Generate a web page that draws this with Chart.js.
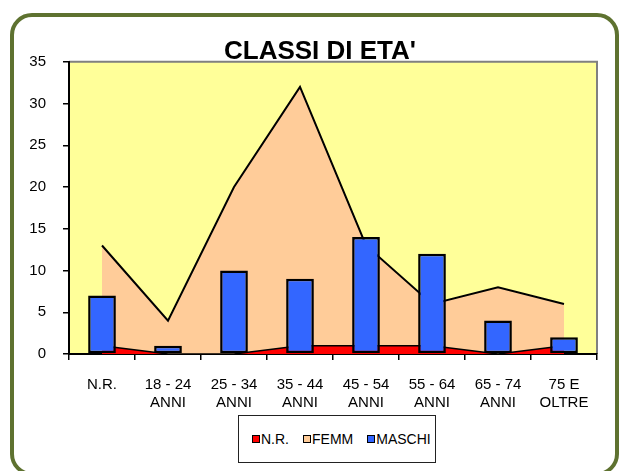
<!DOCTYPE html>
<html><head><meta charset="utf-8">
<script src="https://cdn.jsdelivr.net/npm/chart.js@4.4.1/dist/chart.umd.min.js"></script>
<style>
html,body{margin:0;padding:0;background:#fff;width:619px;height:471px;overflow:hidden;font-family:"Liberation Sans",Arial,sans-serif;}
#wrap{position:absolute;left:0;top:0;width:619px;height:471px;}
#frame{position:absolute;left:10px;top:13px;width:601px;height:455px;border:4px solid #5E7230;border-radius:22px;pointer-events:none;}
#legend{position:absolute;left:238px;top:415px;width:198px;height:48px;border:1px solid #222;box-sizing:border-box;display:flex;align-items:center;padding-left:13px;font-size:14px;color:#000;background:#fff;}
.item{display:flex;align-items:center;margin-right:14px;}
.sw{width:6px;height:6px;border:1px solid #000;margin-right:1px;}
</style></head>
<body>
<div id="wrap"><canvas id="c" width="619" height="471"></canvas></div>
<div id="legend"></div>
<div id="frame"></div>
<script>
const categories = [['N.R.'],['18 - 24','ANNI'],['25 - 34','ANNI'],['35 - 44','ANNI'],['45 - 54','ANNI'],['55 - 64','ANNI'],['65 - 74','ANNI'],['75 E','OLTRE']];
const seriesNames = ['N.R.','FEMM','MASCHI'];
const seriesColors = ['#FF0000','#FFCC99','#3366FF'];
const nrValues = [1,0,0,1,1,1,0,1];
const femmValues = [12,4,20,31,12,5,8,5];
const maschiValues = [7,1,10,9,14,12,4,2];
const yMin = 0, yMax = 35, yStep = 5;
const titleText = "CLASSI DI ETA'";

const FONT = '"Liberation Sans", Arial, sans-serif';

const plotBg = {
  id: 'plotBg',
  beforeDraw(chart) {
    const {ctx, chartArea: a} = chart;
    ctx.save();
    ctx.fillStyle = '#FFFF99';
    ctx.fillRect(a.left, a.top, a.right - a.left, a.bottom - a.top);
    ctx.strokeStyle = '#808080';
    ctx.lineWidth = 2;
    ctx.beginPath();
    ctx.moveTo(a.left, a.top);
    ctx.lineTo(a.right, a.top);
    ctx.lineTo(a.right, a.bottom);
    ctx.stroke();
    ctx.restore();
  }
};

new Chart(document.getElementById('c'), {
  type: 'bar',
  data: {
    labels: categories,
    datasets: [
      {type:'line', label: seriesNames[0], data: nrValues, backgroundColor: seriesColors[0], borderColor:'#000', borderWidth:1.5, fill:'origin', pointRadius:0, tension:0, stack:'area', order:1},
      {type:'line', label: seriesNames[1], data: femmValues, backgroundColor: seriesColors[1], borderColor:'#000', borderWidth:2, fill:'-1', pointRadius:0, tension:0, stack:'area', order:1},
      {type:'bar', label: seriesNames[2], data: maschiValues, backgroundColor: seriesColors[2], borderColor:'#000', borderWidth:2.5, borderSkipped:false, barPercentage:0.42, categoryPercentage:1, stack:'bars', order:0}
    ]
  },
  options: {
    responsive:false,
    animation:false,
    devicePixelRatio:1,
    layout:{padding:{left:21,right:0,top:0,bottom:0}},
    plugins:{
      legend:{display:false},
      tooltip:{enabled:false},
      title:{display:true,text:titleText,color:'#000',font:{family:FONT,size:26,weight:'bold',lineHeight:0.8},padding:{top:41,bottom:0}}
    },
    scales:{
      x:{
        offset:true,
        grid:{offset:true,drawOnChartArea:false,drawTicks:true,tickLength:6,color:'#000',lineWidth:1.5},
        border:{color:'#000',width:2},
        ticks:{color:'#000',font:{family:FONT,size:15,lineHeight:1.2},padding:16,maxRotation:0,autoSkip:false},
        afterFit(s){ s.height = 117; }
      },
      y:{
        stacked:true,
        min:yMin,max:yMax,
        ticks:{stepSize:yStep,color:'#000',font:{family:FONT,size:15},padding:17},
        grid:{drawOnChartArea:false,drawTicks:true,tickLength:6,color:'#000',lineWidth:1.5},
        border:{color:'#000',width:2},
        afterFit(s){ s.width = 48; }
      },
      yRight:{
        type:'linear',
        position:'right',
        display:true,
        grid:{display:false,drawTicks:false},
        border:{display:false},
        ticks:{display:false},
        afterFit(s){ s.width = 22; }
      }
    }
  },
  plugins:[plotBg]
});

const lg = document.getElementById('legend');
seriesNames.forEach((n,i)=>{
  const it = document.createElement('div'); it.className='item';
  const sw = document.createElement('div'); sw.className='sw'; sw.style.background=seriesColors[i];
  const tx = document.createElement('span'); tx.textContent = n;
  it.appendChild(sw); it.appendChild(tx); lg.appendChild(it);
});
</script>
</body></html>
